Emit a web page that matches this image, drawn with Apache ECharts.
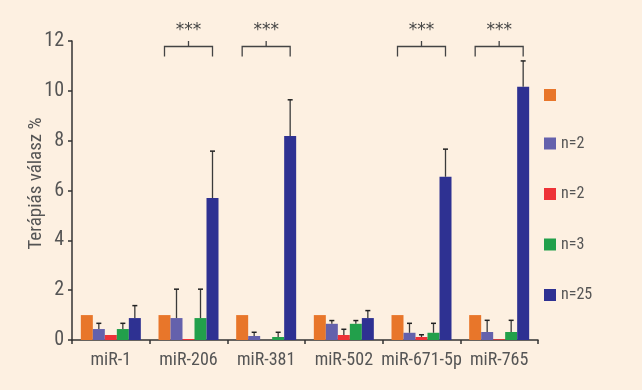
<!DOCTYPE html>
<html><head><meta charset="utf-8">
<script src="https://cdn.jsdelivr.net/npm/echarts@6/dist/echarts.min.js"></script>
<style>html,body{margin:0;padding:0;background:#FDF0E1;}#c{width:642px;height:390px;}</style>
</head><body><div id="c"></div>
<script>
// ---- data ----
const categories = ['miR-1','miR-206','miR-381','miR-502','miR-671-5p','miR-765'];
const seriesKeys = ['s0','s1','s2','s3','s4'];
const legendLabels = ['', 'n=2', 'n=2', 'n=3', 'n=25'];
const orangeVals = [1, 1, 1, 1, 1, 1];
const purpleVals = [0.44, 0.88, 0.16, 0.65, 0.29, 0.32];
const redVals    = [0.20, 0.04, 0.00, 0.20, 0.12, 0.03];
const greenVals  = [0.44, 0.88, 0.12, 0.65, 0.29, 0.32];
const blueVals   = [0.88, 5.70, 8.19, 0.88, 6.55, 10.16];
const orangeErrTop = [null, null, null, null, null, null];
const purpleErrTop = [0.67, 2.04, 0.31, 0.78, 0.67, 0.79];
const redErrTop    = [null, null, null, 0.43, 0.21, null];
const greenErrTop  = [0.67, 2.04, 0.31, 0.78, 0.67, 0.79];
const blueErrTop   = [1.38, 7.58, 9.64, 1.18, 7.66, 11.20];
const sigCategories = [1, 2, 4, 5];
const sigLabel = '***';
const yTicks = [0, 2, 4, 6, 8, 10, 12];

// ---- build ----
const values = [orangeVals, purpleVals, redVals, greenVals, blueVals];
const errTops = [orangeErrTop, purpleErrTop, redErrTop, greenErrTop, blueErrTop];
const colors = ['#E8762A', '#6461AC', '#EE3237', '#22A04B', '#2E3192'];
const BAR_W = 12;
const FONT = "'Liberation Sans Narrow','Arial Narrow','Roboto Condensed','DejaVu Sans Condensed','Liberation Sans',sans-serif";

const errData = [];
errTops.forEach((arr, si) => arr.forEach((t, ci) => {
  if (t != null) errData.push([ci, si, values[si][ci], t]);
}));

const barSeries = values.map((v, i) => ({
  name: seriesKeys[i], type: 'bar', data: v, barWidth: BAR_W, barGap: '0%',
  itemStyle: { color: colors[i] }, z: 2
}));

const errSeries = {
  type: 'custom', data: errData, z: 3, silent: true,
  renderItem: (params, api) => {
    const ci = api.value(0), si = api.value(1);
    const base = api.coord([ci, api.value(2)]);
    const top = api.coord([ci, api.value(3)]);
    const x = base[0] + (si - 2) * BAR_W;
    const st = { stroke: '#3a3a3a', lineWidth: 1.3 };
    return { type: 'group', children: [
      { type: 'line', shape: { x1: x, y1: base[1], x2: x, y2: top[1] }, style: st },
      { type: 'line', shape: { x1: x - 2.5, y1: top[1], x2: x + 2.5, y2: top[1] }, style: { stroke: '#222', lineWidth: 1.5 } }
    ]};
  }
};

const sigSeries = {
  type: 'custom', data: sigCategories.map(c => [c]), z: 4, silent: true, clip: false,
  renderItem: (params, api) => {
    const ci = api.value(0);
    const c = api.coord([ci, 11.78]);
    const low = api.coord([ci, 11.38])[1];
    const top = api.coord([ci, 12.0])[1];
    const star = api.coord([ci, 12.4])[1];
    const x1 = c[0] - 2 * BAR_W, x2 = c[0] + 2 * BAR_W;
    const st = { stroke: '#444', lineWidth: 1.3, fill: null };
    return { type: 'group', children: [
      { type: 'polyline', shape: { points: [[x1, low], [x1, c[1]], [x2, c[1]], [x2, low]] }, style: st },
      { type: 'line', shape: { x1: c[0], y1: c[1], x2: c[0], y2: top }, style: st },
      { type: 'text', style: { text: sigLabel, x: c[0], y: star, align: 'center', verticalAlign: 'middle',
        fontSize: 17, fontFamily: 'DejaVu Sans', fill: '#444' } }
    ]};
  }
};

const chart = echarts.init(document.getElementById('c'));
chart.setOption({
  backgroundColor: '#FDF0E1',
  animation: false,
  textStyle: { fontFamily: FONT },
  grid: { left: 72, right: 104, top: 41, bottom: 50 },
  legend: {
    orient: 'vertical', left: 544, top: 89, padding: 0, itemWidth: 12, itemHeight: 12, itemGap: 34.5,
    data: seriesKeys, icon: 'rect',
    formatter: name => legendLabels[seriesKeys.indexOf(name)],
    textStyle: { fontSize: 16, lineHeight: 12, color: '#555', fontFamily: FONT }
  },
  xAxis: {
    type: 'category', data: categories,
    axisLine: { lineStyle: { color: '#333', width: 1.5 } },
    axisTick: { show: true, length: 4, lineStyle: { color: '#333', width: 1.5 } },
    axisLabel: { interval: 0, fontSize: 18, color: '#555', margin: 11, fontFamily: FONT }
  },
  yAxis: {
    type: 'value', min: yTicks[0], max: yTicks[yTicks.length - 1], interval: 2,
    name: 'Terápiás válasz %', nameLocation: 'middle', nameGap: 26, nameRotate: 90, nameMoveOverlap: false,
    nameTextStyle: { fontSize: 19, color: '#555', fontFamily: FONT, padding: [0, 0, 0, 14] },
    axisLine: { show: true, lineStyle: { color: '#333', width: 1.5 } },
    axisTick: { show: true, length: 4, lineStyle: { color: '#333', width: 1.5 } },
    axisLabel: { fontSize: 20, color: '#555', margin: 8, fontFamily: FONT },
    splitLine: { show: false }
  },
  series: [...barSeries, errSeries, sigSeries]
});
</script></body></html>
